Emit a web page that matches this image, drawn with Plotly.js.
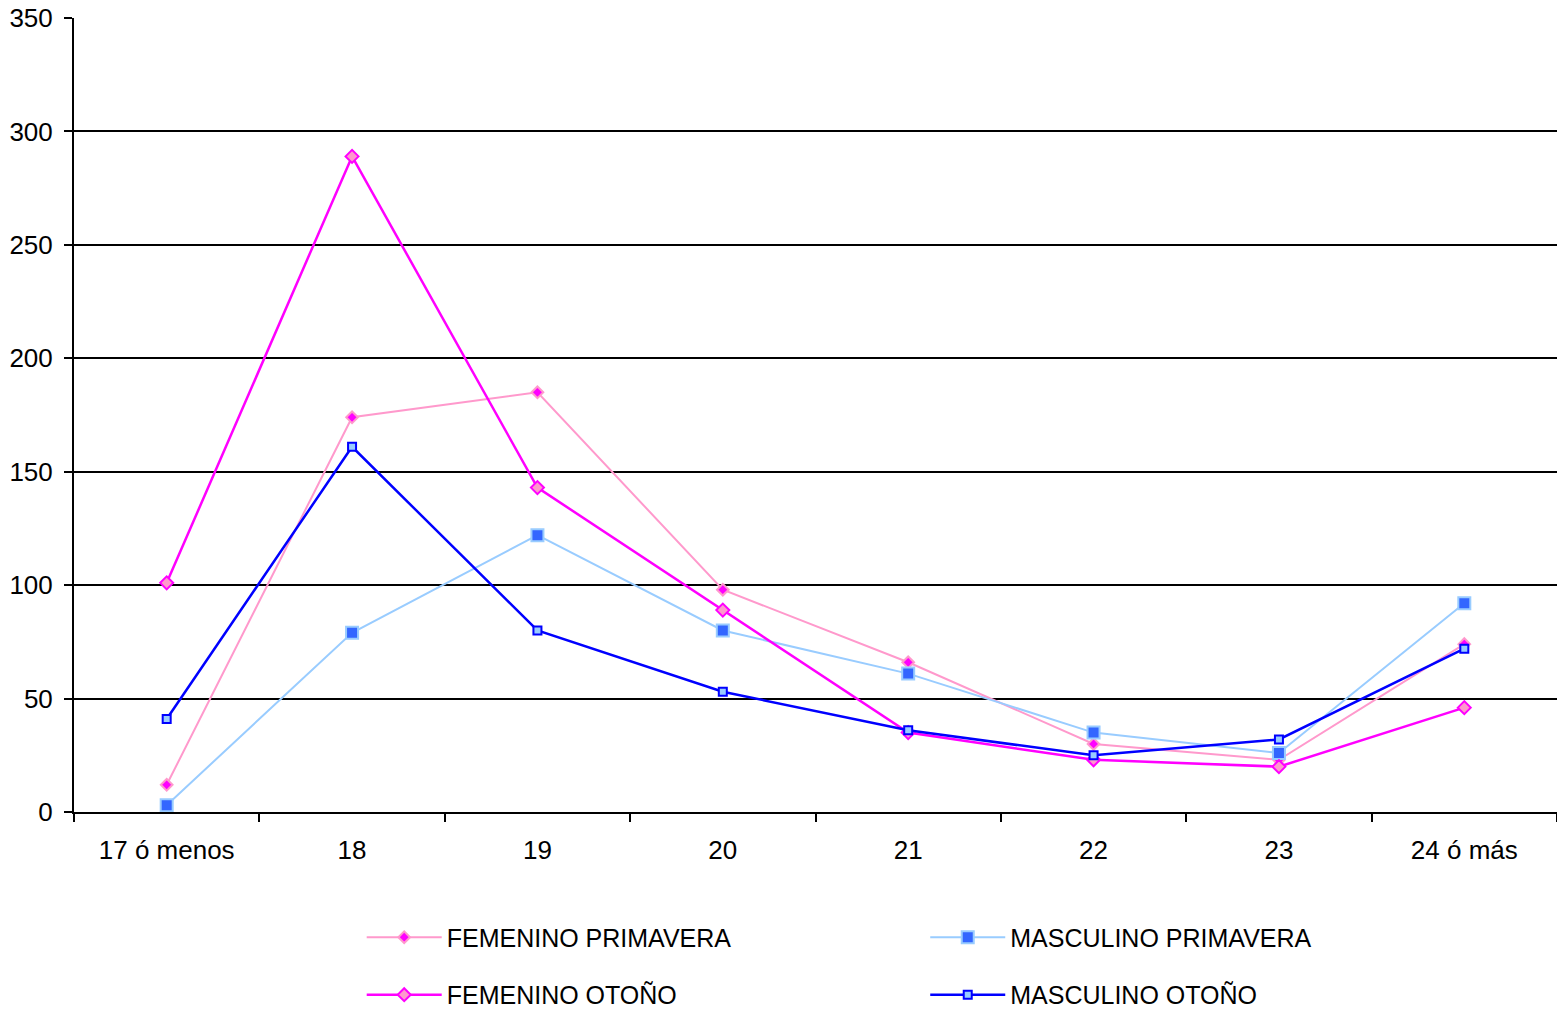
<!DOCTYPE html>
<html>
<head>
<meta charset="utf-8">
<script src="https://cdn.plot.ly/plotly-3.0.1.min.js"></script>
<style>html,body{margin:0;padding:0;background:#fff;}#chart{width:1557px;height:1010px;}</style>
</head>
<body>
<div id="chart"></div>
<script>
const categories = ["17 ó menos", "18", "19", "20", "21", "22", "23", "24 ó más"];
const femeninoPrimavera = [12, 174, 185, 98, 66, 30, 23, 74];
const masculinoPrimavera = [3, 79, 122, 80, 61, 35, 26, 92];
const femeninoOtono = [101, 289, 143, 89, 35, 23, 20, 46];
const masculinoOtono = [41, 161, 80, 53, 36, 25, 32, 72];
const yTicks = [0, 50, 100, 150, 200, 250, 300, 350];

const tickFont = {family: "Liberation Sans, Arial, sans-serif", size: 26, color: "#000"};
const legendFont = {family: "Liberation Sans, Arial, sans-serif", size: 25, color: "#000"};

const traces = [
  {name: "FEMENINO PRIMAVERA", y: femeninoPrimavera, legend: "legend", legendgroup: "a",
   line: {color: "#FF99CC", width: 2},
   marker: {symbol: "diamond", size: 9, color: "#FF00FF", line: {color: "#FF99CC", width: 2}}},
  {name: "MASCULINO PRIMAVERA", y: masculinoPrimavera, legend: "legend2", legendgroup: "b",
   line: {color: "#99CCFF", width: 2},
   marker: {symbol: "square", size: 12, color: "#3366FF", line: {color: "#99CCFF", width: 2}}},
  {name: "FEMENINO OTOÑO", y: femeninoOtono, legend: "legend", legendgroup: "c",
   line: {color: "#FF00FF", width: 2.5},
   marker: {symbol: "diamond", size: 10, color: "#FF99CC", line: {color: "#FF00FF", width: 2}}},
  {name: "MASCULINO OTOÑO", y: masculinoOtono, legend: "legend2", legendgroup: "d",
   line: {color: "#0000FF", width: 2.5},
   marker: {symbol: "square", size: 8, color: "#99CCFF", line: {color: "#0000FF", width: 2}}}
].map(t => Object.assign({type: "scatter", mode: "lines+markers", x: categories}, t));

const legendBase = {
  orientation: "v", yanchor: "top", xanchor: "left", yref: "container", y: 0.0946,
  bgcolor: "rgba(0,0,0,0)", borderwidth: 0, font: legendFont,
  itemwidth: 75, tracegroupgap: 22, traceorder: "grouped", itemsizing: "trace"
};

const layout = {
  width: 1557, height: 1010,
  margin: {l: 74, r: 0, t: 18, b: 198},
  paper_bgcolor: "#fff", plot_bgcolor: "#fff",
  font: tickFont,
  showlegend: true,
  legend: Object.assign({}, legendBase, {x: 0.194}),
  legend2: Object.assign({}, legendBase, {x: 0.574}),
  xaxis: {
    type: "category", range: [-0.5, 7.5],
    showgrid: false, zeroline: false,
    showline: true, linecolor: "#000", linewidth: 2,
    ticks: "outside", tickson: "boundaries", ticklen: 8, tickwidth: 2, tickcolor: "#000",
    tickfont: tickFont, ticklabelstandoff: 14, fixedrange: true
  },
  yaxis: {
    range: [0, 350], tickvals: yTicks,
    showgrid: true, gridcolor: "#000", gridwidth: 2,
    zeroline: false, showline: true, linecolor: "#000", linewidth: 2,
    ticks: "outside", ticklen: 8, tickwidth: 2, tickcolor: "#000",
    tickfont: tickFont, ticklabelstandoff: 6, fixedrange: true
  }
};

Plotly.newPlot("chart", traces, layout, {staticPlot: true});
</script>
</body>
</html>
